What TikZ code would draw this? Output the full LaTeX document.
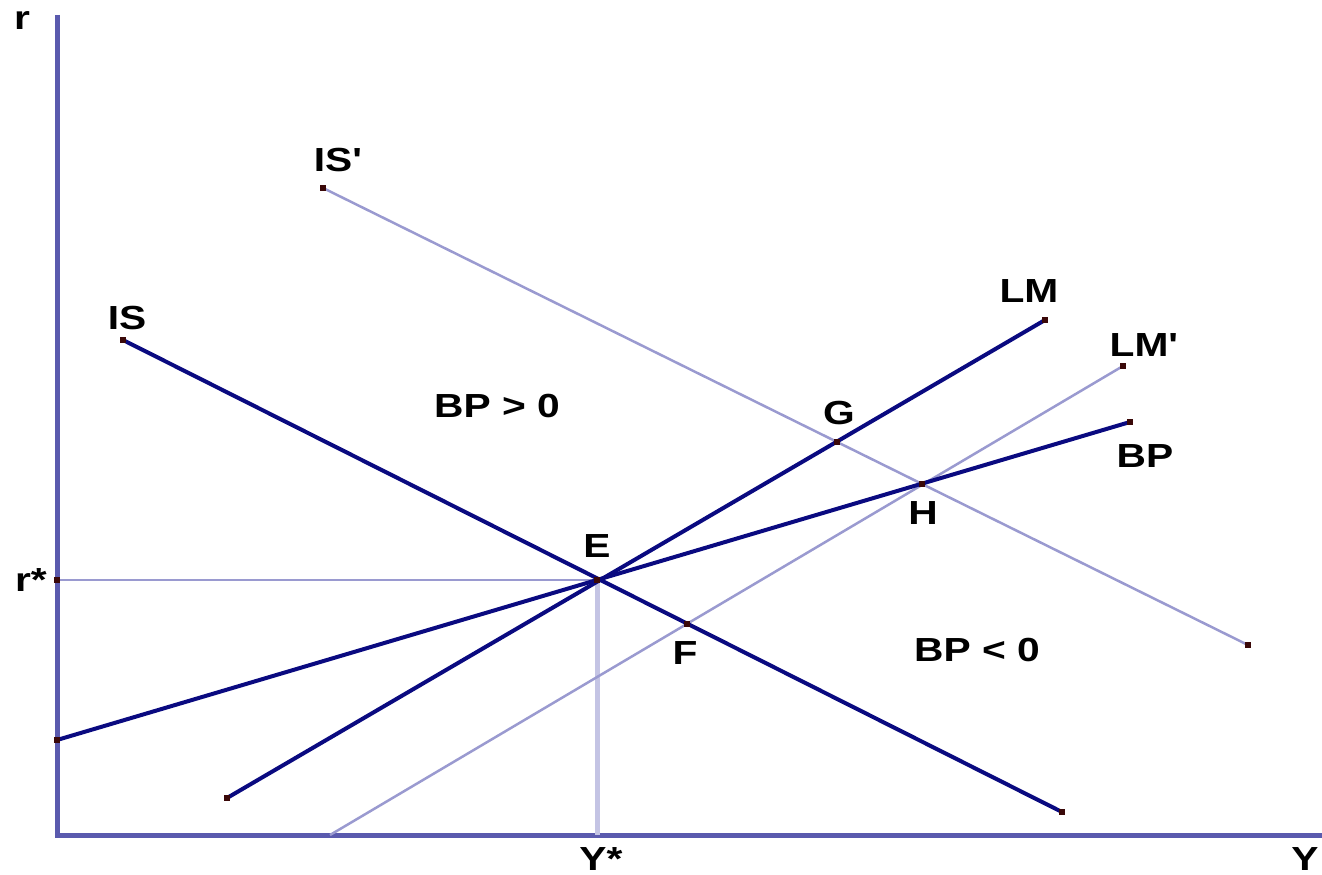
\documentclass[tikz,border=0pt]{standalone}
\usepackage{fontspec}
\setmainfont{Liberation Sans}
\newfontfamily\lblfont[FakeStretch=1.22]{Liberation Sans Bold}
\usetikzlibrary{positioning}

\definecolor{axisblue}{HTML}{5A5AAE}
\definecolor{curvenavy}{HTML}{0A0A80}
\definecolor{shiftblue}{HTML}{9A9AD0}
\definecolor{guideblue}{HTML}{C4C4E4}
\definecolor{dotred}{HTML}{3A0808}

\begin{document}
\begin{tikzpicture}[x=0.02cm, y=-0.02cm,
  axisline/.style={draw=axisblue, line width=0.1cm},
  curve/.style={draw=curvenavy, line width=0.08cm},
  shifted/.style={draw=shiftblue, line width=0.05cm},
  guide/.style={draw=guideblue, line width=0.1cm},
  dot/.style={rectangle, fill=dotred, inner sep=0pt, minimum size=0.12cm},
  lbl/.style={font=\fontsize{19}{22}\selectfont\lblfont, inner sep=0pt}]
  \useasboundingbox (0,0) rectangle (1322,875);

  % axes
  \coordinate (O) at (57,835);
  \coordinate (rtop) at (57,15);
  \coordinate (yend) at (1322,835);
  \draw[axisline] (rtop) -- (O) -- (yend);

  % curve end points
  \coordinate (ISa) at (123,340);   \coordinate (ISb) at (1062,812);
  \coordinate (ISpa) at (323,188);  \coordinate (ISpb) at (1248,645);
  \coordinate (LMa) at (227,798);   \coordinate (LMb) at (1045,320);
  \coordinate (LMpa) at (330,835);  \coordinate (LMpb) at (1123,366);
  \coordinate (BPa) at (57,740);    \coordinate (BPb) at (1130,422);
  \coordinate (E) at (597,580);
  \coordinate (rstar) at (57,580);
  \coordinate (ystar) at (597,835);
  \coordinate (G) at (intersection of LMa--LMb and ISpa--ISpb);
  \coordinate (H) at (intersection of BPa--BPb and ISpa--ISpb);
  \coordinate (F) at (intersection of ISa--ISb and LMpa--LMpb);

  % guides to r* and Y*
  \draw[guide] (E) -- (ystar);
  \draw[shifted] (rstar) -- (E);

  % shifted curves
  \draw[shifted] (ISpa) -- (ISpb);
  \draw[shifted] (LMpa) -- (LMpb);

  % main curves
  \draw[curve] (ISa) -- (ISb);
  \draw[curve] (LMa) -- (LMb);
  \draw[curve] (BPa) -- (BPb);

  % points
  \foreach \p in {ISa,ISb,ISpa,ISpb,LMa,LMb,LMpb,BPa,BPb,E,G,H,F,rstar}
    \node[dot] at (\p) {};

  % labels
  \node[lbl] (rlab) at (22,21) {r};
  \node[lbl] (rstarlab) at (31,580) {r*};
  \node[lbl] (ylab) at (1305,859) {Y};
  \node[lbl] (ystarlab) at (601,859) {Y*};
  \node[lbl] (ISplab) at (337,160) {IS\textquotesingle};
  \node[lbl] (ISlab) at (127,318) {IS};
  \node[lbl] (LMlab) at (1029,291) {LM};
  \node[lbl] (LMplab) at (1143,345) {LM\textquotesingle};
  \node[lbl] (BPlab) at (1145,456) {BP};
  \node[lbl] (Glab) at (839,413) {G};
  \node[lbl] (Hlab) at (923,513) {H};
  \node[lbl] (Elab) at (597,546) {E};
  \node[lbl] (Flab) at (685,653) {F};
  \node[lbl] (bppos) at (497,406) {BP > 0};
  \node[lbl] (bpneg) at (977,650) {BP < 0};
\end{tikzpicture}
\end{document}
